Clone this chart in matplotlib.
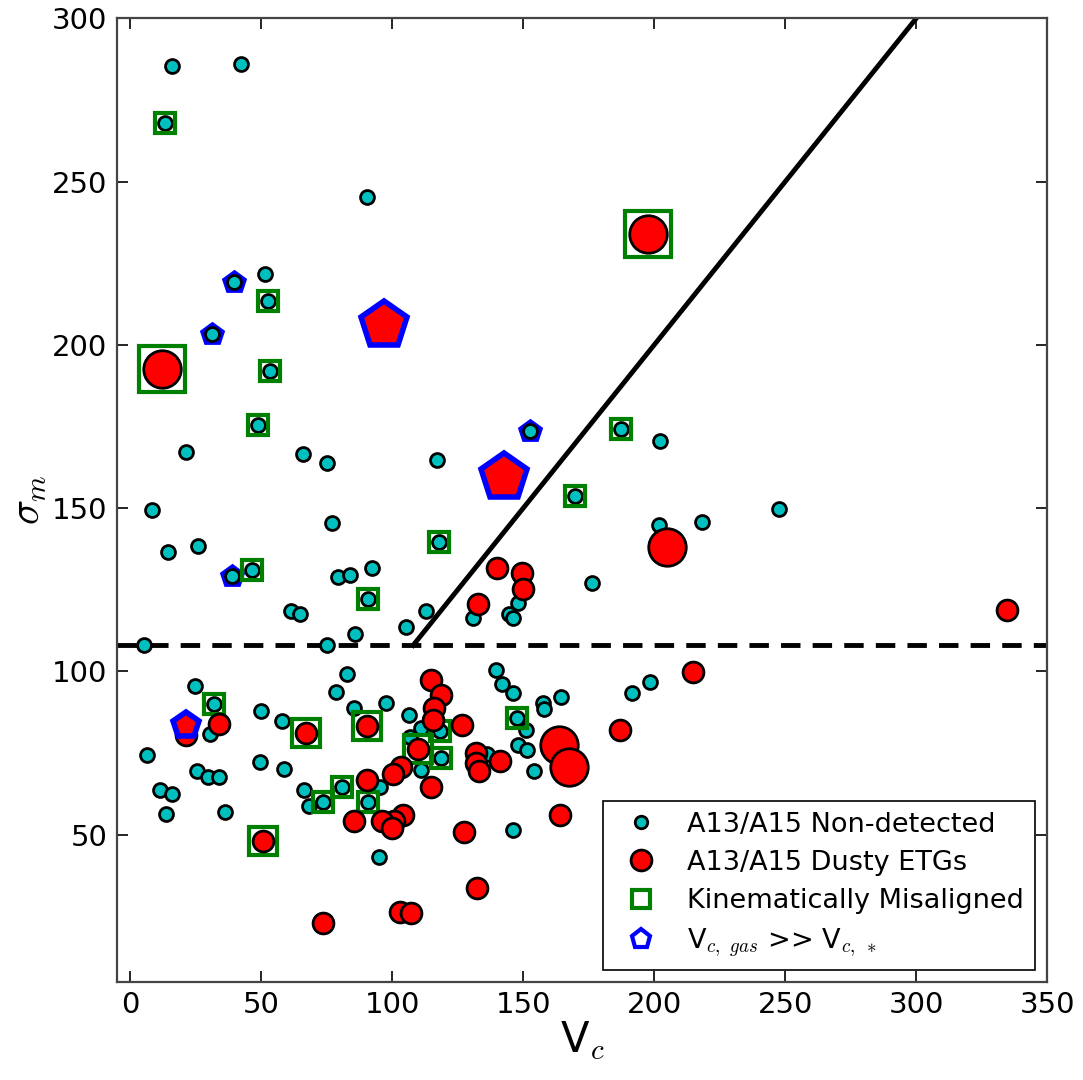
import numpy as np
import matplotlib
matplotlib.use('Agg')
import matplotlib.pyplot as plt
from matplotlib.lines import Line2D

plt.rcParams['mathtext.fontset'] = 'cm'
plt.rcParams['font.family'] = 'DejaVu Sans'

# A13/A15 non-detected (cyan)
nd_x = [16.0, 42.4, 13.2, 90.5, 39.8, 51.4, 52.6, 31.3, 53.3, 48.7,
        21.5, 66.0, 75.1, 117.1, 8.4, 77.1, 117.7, 14.5, 25.9, 39.0,
        46.7, 79.3, 83.9, 92.5, 90.9, 61.6, 64.7, 85.8, 105.2, 112.8,
        5.2, 75.1, 152.8, 187.4, 202.4, 169.9, 201.7, 218.4, 247.6, 176.4,
        147.9, 130.7, 144.7, 146.2, 139.6, 141.9, 146.0, 157.4, 157.8, 164.5,
        191.5, 198.3, 147.7, 151.0, 147.9, 151.5, 154.2, 136.2, 146.0, 24.7,
        32.0, 30.5, 50.1, 58.0, 78.5, 82.7, 85.3, 97.5, 106.6, 111.2,
        118.3, 107.0, 118.5, 111.2, 6.5, 25.4, 29.8, 33.9, 49.6, 58.7,
        11.6, 16.1, 13.9, 36.2, 66.4, 68.3, 73.5, 80.7, 90.9, 95.5,
        94.9]
nd_y = [285.3, 286.1, 267.9, 245.4, 219.3, 221.7, 213.5, 203.3, 192.1, 175.5,
        167.3, 166.5, 163.7, 164.9, 149.5, 145.5, 139.5, 136.7, 138.4, 129.2,
        131.0, 128.9, 129.4, 131.7, 122.3, 118.5, 117.5, 111.6, 113.7, 118.5,
        108.0, 108.2, 173.7, 174.2, 170.6, 153.8, 144.9, 145.8, 149.7, 127.2,
        120.9, 116.3, 117.5, 116.3, 100.6, 96.2, 93.5, 90.4, 88.6, 92.1,
        93.5, 96.8, 85.8, 82.2, 77.6, 75.9, 69.5, 74.8, 51.4, 95.7,
        90.1, 81.0, 88.0, 84.8, 93.6, 99.1, 88.8, 90.3, 86.7, 82.7,
        81.7, 79.8, 73.5, 69.7, 74.4, 69.5, 67.7, 67.7, 72.3, 70.2,
        63.6, 62.6, 56.4, 57.0, 63.6, 58.7, 59.9, 64.5, 60.0, 64.5,
        43.3]

# A13/A15 dusty ETGs (red); big = 1 for the large symbols
dusty_x = [12.0, 197.6, 204.9, 163.5, 167.6, 334.7, 140.2, 149.6, 150.1, 132.9,
           214.8, 186.8, 163.9, 21.3, 33.9, 67.3, 90.4, 50.7, 115.0, 118.5,
           116.0, 115.7, 126.8, 109.7, 103.3, 100.3, 90.4, 114.9, 132.0, 132.0,
           133.3, 141.3, 104.3, 100.7, 96.3, 100.1, 85.3, 127.5, 73.7, 103.0,
           107.2, 132.4]
dusty_y = [192.6, 234.0, 138.2, 77.5, 70.6, 118.8, 131.8, 130.3, 125.2, 120.8,
           99.9, 82.0, 56.1, 80.5, 84.0, 81.2, 83.3, 48.0, 97.5, 92.8,
           88.7, 85.0, 83.7, 76.3, 70.7, 68.7, 66.8, 64.6, 75.0, 72.0,
           69.4, 72.5, 56.0, 54.1, 54.1, 52.0, 54.1, 50.7, 22.9, 26.5,
           26.0, 33.7]
dusty_big = [1, 1, 1, 1, 1, 0, 0, 0, 0, 0,
             0, 0, 0, 0, 0, 0, 0, 0, 0, 0,
             0, 0, 0, 0, 0, 0, 0, 0, 0, 0,
             0, 0, 0, 0, 0, 0, 0, 0, 0, 0,
             0, 0]

# kinematically misaligned; kind: 0 = around cyan, 1 = red, 2 = big red
mis_x = [13.2, 52.6, 53.3, 48.7, 117.7, 46.7, 90.9, 187.4, 169.9, 147.7,
         32.0, 118.3, 118.5, 73.5, 80.7, 90.9, 67.3, 90.4, 50.7, 109.7,
         12.0, 197.6]
mis_y = [267.9, 213.5, 192.1, 175.5, 139.5, 131.0, 122.3, 174.2, 153.8, 85.8,
         90.1, 81.7, 73.5, 59.9, 64.5, 60.0, 81.2, 83.3, 48.0, 76.3,
         192.6, 234.0]
mis_kind = [0, 0, 0, 0, 0, 0, 0, 0, 0, 0,
            0, 0, 0, 0, 0, 0, 1, 1, 1, 1,
            2, 2]

# V_c,gas >> V_c,*; kind: 0 = cyan, 1 = red, 2 = big red
pent_x = [39.8, 31.3, 39.0, 152.8, 21.5, 96.8, 142.8]
pent_y = [219.3, 203.3, 129.2, 173.7, 83.5, 206.0, 159.6]
pent_kind = [0, 0, 0, 0, 1, 2, 2]

sigma_cut = 108.0
line_x = [108.0, 300.0]

fig = plt.figure(figsize=(10.83, 10.8), dpi=100)
ax = fig.add_axes([0.108, 0.091, 0.859, 0.892])

nd_x = np.array(nd_x); nd_y = np.array(nd_y)
dusty_x = np.array(dusty_x); dusty_y = np.array(dusty_y); dusty_big = np.array(dusty_big)
mis_x = np.array(mis_x); mis_y = np.array(mis_y); mis_kind = np.array(mis_kind)
pent_x = np.array(pent_x); pent_y = np.array(pent_y); pent_kind = np.array(pent_kind)

ax.axhline(sigma_cut, color='k', ls='--', lw=3.5, dashes=(4, 2.5), zorder=1)
ax.plot(line_x, line_x, color='k', lw=3.5, zorder=1)

# blue pentagons behind the cyan points
m = pent_kind == 0
ax.plot(pent_x[m], pent_y[m], 'p', ms=16, mfc='b', mec='b', mew=2, zorder=2)

ax.plot(nd_x, nd_y, 'o', ms=10, mfc='c', mec='k', mew=2, zorder=3)

for k, ms in [(0, 15), (1, 20), (2, 33)]:
    m = mis_kind == k
    ax.plot(mis_x[m], mis_y[m], 's', ms=ms, mfc='none', mec='g', mew=3, zorder=4)

m = dusty_big == 0
ax.plot(dusty_x[m], dusty_y[m], 'o', ms=15, mfc='r', mec='k', mew=2, zorder=5)
m = dusty_big == 1
ax.plot(dusty_x[m], dusty_y[m], 'o', ms=27, mfc='r', mec='k', mew=2, zorder=5)

for k, ms in [(1, 19), (2, 35)]:
    m = pent_kind == k
    ax.plot(pent_x[m], pent_y[m], 'p', ms=ms, mfc='r', mec='b', mew=4, zorder=6)

ax.set_xlim(-5, 350)
ax.set_ylim(5, 300)
ax.set_xticks([0, 50, 100, 150, 200, 250, 300, 350])
ax.set_yticks([50, 100, 150, 200, 250, 300])
ax.tick_params(direction='in', top=True, right=True, length=8, width=1.2,
               labelsize=21, pad=7)
for s in ax.spines.values():
    s.set_linewidth(1.6)
    s.set_color('#444444')

ax.set_xlabel(r'V$_c$', fontsize=30, labelpad=0)
ax.set_ylabel(r'$\sigma_m$', fontsize=30, labelpad=2)

handles = [
    Line2D([], [], ls='none', marker='o', ms=9, mfc='c', mec='k', mew=2),
    Line2D([], [], ls='none', marker='o', ms=15, mfc='r', mec='k', mew=2),
    Line2D([], [], ls='none', marker='s', ms=13, mfc='none', mec='g', mew=3),
    Line2D([], [], ls='none', marker='p', ms=14, mfc='none', mec='b', mew=3),
]
labels = ['A13/A15 Non-detected', 'A13/A15 Dusty ETGs',
          'Kinematically Misaligned', r'V$_{c,\ gas}$ >> V$_{c,\ *}$']
leg = ax.legend(handles, labels, loc='lower right', fontsize=19.5, numpoints=1,
                fancybox=False, edgecolor='k', framealpha=1, borderaxespad=0.45,
                handletextpad=0.7, labelspacing=0.45)
leg.get_frame().set_linewidth(1.2)

fig.savefig('out.png', dpi=100)
